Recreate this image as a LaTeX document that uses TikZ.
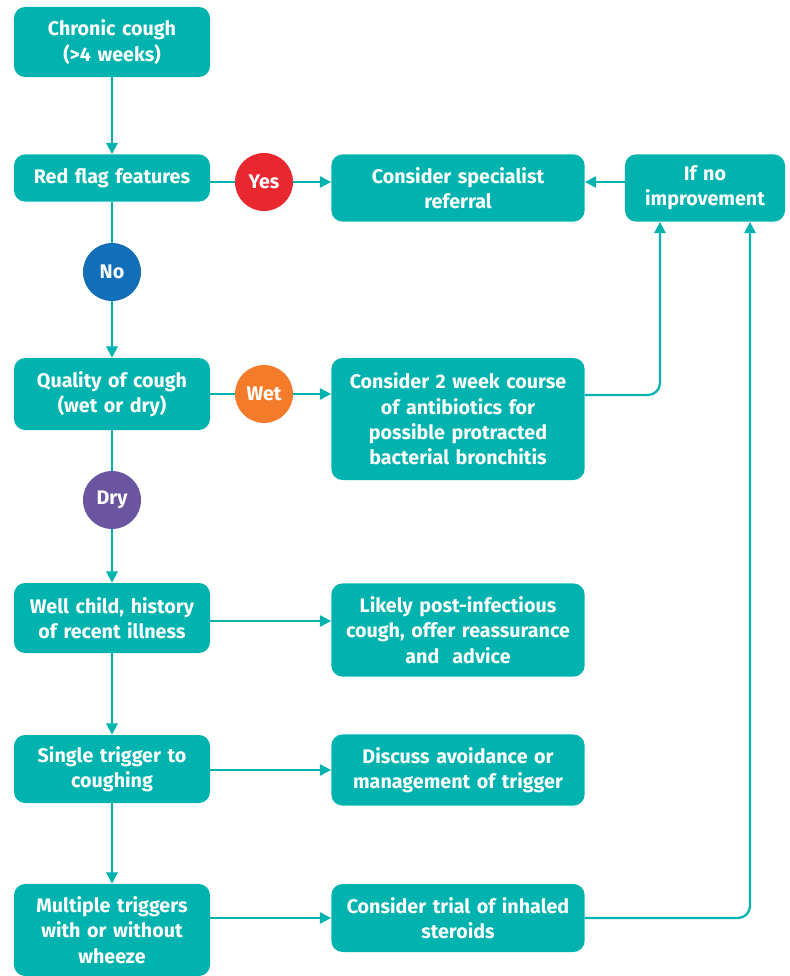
\documentclass[tikz,border=0pt]{standalone}
\usepackage{fontspec}
\setmainfont{Fira Sans}
\usetikzlibrary{arrows.meta}
\definecolor{teal1}{HTML}{00B3AF}
\definecolor{flagred}{HTML}{E8282E}
\definecolor{noblue}{HTML}{116FBA}
\definecolor{wetorange}{HTML}{F47B2A}
\definecolor{drypurple}{HTML}{6B55A1}

\begin{document}
\begin{tikzpicture}[x=0.025cm,y=-0.025cm,
  box/.style={draw=none,fill=teal1,rounded corners=0.28cm,text=white,align=center,
    font=\fontsize{14}{18}\selectfont\bfseries,inner sep=0pt},
  leftbox/.style={box,minimum width=4.9cm,text width=4.85cm},
  rightbox/.style={box,minimum width=6.33cm,text width=6.25cm},
  answer/.style={circle,minimum size=1.45cm,inner sep=0pt,text=white,
    font=\fontsize{14}{16}\selectfont\bfseries},
  link/.style={draw=teal1,line width=1.6pt},
  arr/.style={link,-{Triangle[length=8pt,width=8pt]}}]
 \useasboundingbox (0,0) rectangle (790,976);
 % linke Spalte
 \node[leftbox,minimum height=1.75cm] (chronic) at (112,42) {Chronic cough\\(>4 weeks)};
 \node[leftbox,minimum height=1.18cm] (redflag) at (112,178) {Red flag features};
 \node[leftbox,minimum height=1.8cm] (quality) at (112,394) {Quality of cough\\(wet or dry)};
 \node[leftbox,minimum height=1.75cm] (well) at (112,618) {Well child, history\\of recent illness};
 \node[leftbox,minimum height=1.7cm] (single) at (112,769) {Single trigger to\\coughing};
 \node[leftbox,minimum height=2.3cm] (multiple) at (112,930) {Multiple triggers\\with or without\\wheeze};
 % Antworten
 \node[answer,fill=flagred] (yes) at (264,182) {Yes};
 \node[answer,fill=noblue] (no) at (112,272) {No};
 \node[answer,fill=wetorange] (wet) at (264,394) {Wet};
 \node[answer,fill=drypurple] (dry) at (112,500) {Dry};
 % rechte Spalte
 \node[rightbox,minimum height=1.68cm] (specialist) at (458,188) {Consider specialist\\referral};
 \node[box,minimum width=4cm,text width=3.95cm,minimum height=1.68cm] (improve) at (705,188) {If no\\improvement};
 \node[rightbox,minimum height=3.05cm] (antibiotics) at (458,419) {Consider 2 week course\\of antibiotics for\\possible protracted\\bacterial bronchitis};
 \node[rightbox,minimum height=2.33cm] (postinf) at (458,630) {Likely post-infectious\\cough, offer reassurance\\and\ \ advice};
 \node[rightbox,minimum height=1.78cm] (avoid) at (458,770) {Discuss avoidance or\\management of trigger};
 \node[rightbox,minimum height=1.7cm] (trial) at (458,918) {Consider trial of inhaled\\steroids};
 % Verbindungen
 \coordinate (wetturn) at (660,395);
 \coordinate (trialturn) at (750,918);
 \draw[arr] (chronic) -- (redflag);
 \draw[link] (redflag.south) -- (no);
 \draw[arr] (no) -- (quality);
 \draw[link] (quality.south) -- (dry);
 \draw[arr] (dry) -- (well);
 \draw[arr] (well) -- (single);
 \draw[arr] (single) -- (multiple);
 \draw[link] (redflag.east |- yes) -- (yes);
 \draw[arr] (yes) -- (specialist.west |- yes);
 \draw[link] (quality.east |- wet) -- (wet);
 \draw[arr] (wet) -- (antibiotics.west |- wet);
 \draw[arr] (improve.west |- yes) -- (specialist.east |- yes);
 \draw[arr] (well.east |- 0,621) -- (postinf.west |- 0,621);
 \draw[arr] (single.east |- 0,770) -- (avoid.west |- 0,770);
 \draw[arr] (multiple.east |- trial) -- (trial.west);
 \draw[arr,rounded corners=0.3cm] (antibiotics.east |- wetturn) -- (wetturn) -- (wetturn |- improve.south);
 \draw[arr,rounded corners=0.3cm] (trial.east) -- (trialturn) -- (trialturn |- improve.south);
\end{tikzpicture}
\end{document}
